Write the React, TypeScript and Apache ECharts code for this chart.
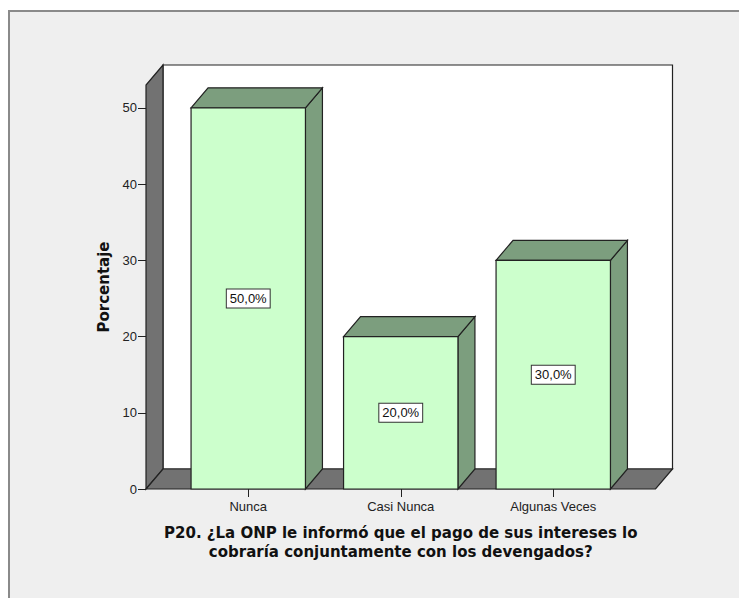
import React, { useEffect, useRef } from "react";
import * as echarts from "echarts";

const categories = ["Nunca", "Casi Nunca", "Algunas Veces"];
const percentages = [50, 20, 30];
const yTicks = [0, 10, 20, 30, 40, 50];
const xTitle = "P20. ¿La ONP le informó que el pago de sus intereses lo\ncobraría conjuntamente con los devengados?";
const yTitle = "Porcentaje";

const DX = 17;
const DY = 20;
const EXT = 26;
const WALL_TOP = 53;
const FONT = "'Liberation Sans', Arial, sans-serif";
const TITLE_FONT = "'DejaVu Sans', Verdana, sans-serif";

export default function App() {
  const ref = useRef<HTMLDivElement>(null);
  useEffect(() => {
    if (!ref.current) return;
    const chart = echarts.init(ref.current, undefined, { renderer: "svg" });
    const option: any = {
      animation: false,
      backgroundColor: "#ffffff",
      graphic: [
        {
          type: "rect",
          z: -10,
          silent: true,
          shape: { x: 9, y: 11, width: 740, height: 600 },
          style: { fill: "#efefef", stroke: "#8a8a8a", lineWidth: 2 },
        },
      ],
      grid: { left: 172, right: 109.5, top: 85, bottom: 109 },
      xAxis: {
        type: "category",
        data: categories,
        axisLine: { show: false },
        axisTick: { show: true, alignWithLabel: true, length: 8, lineStyle: { color: "#222", width: 1 } },
        axisLabel: { margin: 11, fontSize: 13, color: "#222", fontFamily: FONT },
        name: xTitle,
        nameLocation: "middle",
        nameGap: 34,
        nameTextStyle: { fontSize: 15, fontWeight: "bold", color: "#111", fontFamily: TITLE_FONT, lineHeight: 19, align: "center" },
      },
      yAxis: {
        type: "value",
        min: 0,
        max: WALL_TOP,
        interval: 10,
        offset: EXT,
        axisLine: { show: false },
        splitLine: { show: false },
        axisTick: { show: true, length: 8, customValues: yTicks, lineStyle: { color: "#222", width: 1 } },
        axisLabel: { margin: 9, fontSize: 13, color: "#222", fontFamily: FONT, customValues: yTicks },
        name: yTitle,
        nameLocation: "middle",
        nameGap: 34,
        nameTextStyle: { fontSize: 15, fontWeight: "bold", color: "#111", fontFamily: TITLE_FONT },
      },
      series: [
        {
          type: "custom",
          z: 1,
          silent: true,
          data: [[0, 0]],
          encode: { x: 0, y: 1 },
          renderItem: (params: any, api: any) => {
            const cs = params.coordSys;
            const y0 = api.coord([0, 0])[1];
            const yt = api.coord([0, WALL_TOP])[1];
            const xl = cs.x - EXT;
            const xr = cs.x + cs.width + EXT;
            const stroke = "#222";
            return {
              type: "group",
              children: [
                {
                  type: "rect",
                  shape: { x: xl + DX, y: yt - DY, width: xr - xl, height: y0 - yt },
                  style: { fill: "#ffffff", stroke, lineWidth: 1.2 },
                },
                {
                  type: "polygon",
                  shape: { points: [[xl, y0], [xl, yt], [xl + DX, yt - DY], [xl + DX, y0 - DY]] },
                  style: { fill: "#727272", stroke, lineWidth: 1.2 },
                },
                {
                  type: "polygon",
                  shape: { points: [[xl, y0], [xl + DX, y0 - DY], [xr + DX, y0 - DY], [xr, y0]] },
                  style: { fill: "#727272", stroke, lineWidth: 1.2 },
                },
              ],
            };
          },
        },
        {
          type: "custom",
          z: 2,
          data: percentages.map((v, i) => [i, v]),
          encode: { x: 0, y: 1 },
          renderItem: (params: any, api: any) => {
            const idx = api.value(0);
            const val = api.value(1);
            const top = api.coord([idx, val]);
            const bot = api.coord([idx, 0]);
            const w = api.size([1, 0])[0] * 0.75;
            const xl = top[0] - w / 2;
            const xr = top[0] + w / 2;
            const yt = top[1];
            const yb = bot[1];
            const stroke = "#222";
            return {
              type: "group",
              children: [
                {
                  type: "polygon",
                  shape: { points: [[xr, yt], [xr + DX, yt - DY], [xr + DX, yb - DY], [xr, yb]] },
                  style: { fill: "#7c9e7e", stroke, lineWidth: 1.2 },
                },
                {
                  type: "polygon",
                  shape: { points: [[xl, yt], [xl + DX, yt - DY], [xr + DX, yt - DY], [xr, yt]] },
                  style: { fill: "#7c9e7e", stroke, lineWidth: 1.2 },
                },
                {
                  type: "rect",
                  shape: { x: xl, y: yt, width: w, height: yb - yt },
                  style: { fill: "#ccffcc", stroke, lineWidth: 1.2 },
                },
                {
                  type: "text",
                  x: top[0],
                  y: (yt + yb) / 2,
                  style: {
                    text: val.toFixed(1).replace(".", ",") + "%",
                    fontSize: 13,
                    fontFamily: FONT,
                    fill: "#111",
                    align: "center",
                    verticalAlign: "middle",
                    backgroundColor: "#ffffff",
                    borderColor: "#333",
                    borderWidth: 1,
                    padding: [3, 3, 2, 3],
                  },
                },
              ],
            };
          },
        },
      ],
    };
    chart.setOption(option);
    return () => chart.dispose();
  }, []);
  return (
    <div
      ref={ref}
      style={{ position: "fixed", left: 0, top: 0, width: 739, height: 598 }}
    />
  );
}
